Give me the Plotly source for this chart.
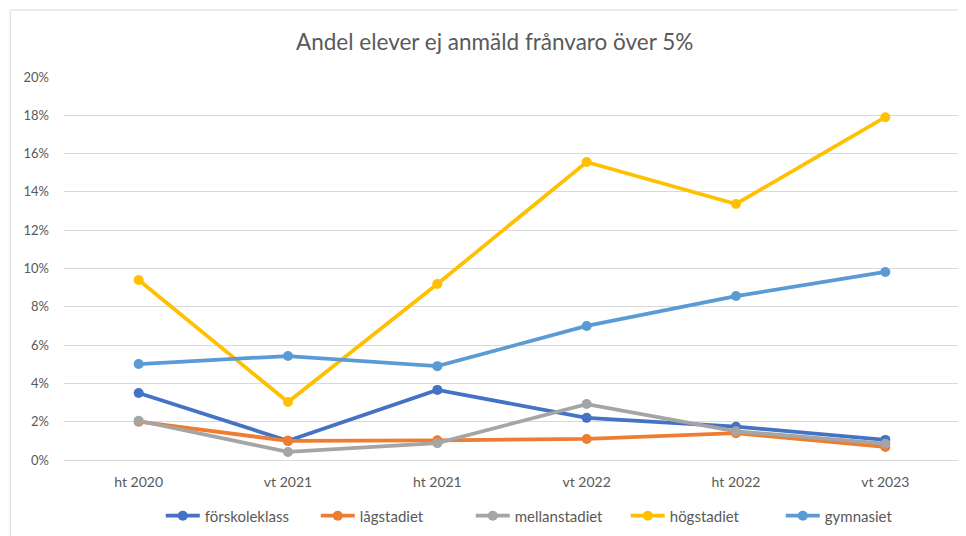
import plotly.graph_objects as go

categories = ["ht 2020", "vt 2021", "ht 2021", "vt 2022", "ht 2022", "vt 2023"]
forskoleklass = [0.035, 0.010, 0.0366, 0.022, 0.0174, 0.0105]
lagstadiet = [0.020, 0.010, 0.0103, 0.011, 0.014, 0.0068]
mellanstadiet = [0.0205, 0.0042, 0.0088, 0.0292, 0.015, 0.0085]
hogstadiet = [0.094, 0.0303, 0.0919, 0.1556, 0.1337, 0.179]
gymnasiet = [0.0501, 0.0543, 0.049, 0.070, 0.0856, 0.0982]
y_ticks = [0, 0.02, 0.04, 0.06, 0.08, 0.10, 0.12, 0.14, 0.16, 0.18, 0.20]
y_tick_labels = ["0%", "2%", "4%", "6%", "8%", "10%", "12%", "14%", "16%", "18%", "20%"]

series = [
    ("förskoleklass", forskoleklass, "#4472C4"),
    ("lågstadiet", lagstadiet, "#ED7D31"),
    ("mellanstadiet", mellanstadiet, "#A5A5A5"),
    ("högstadiet", hogstadiet, "#FFC000"),
    ("gymnasiet", gymnasiet, "#5B9BD5"),
]

fig = go.Figure()
for name, vals, color in series:
    fig.add_trace(go.Scatter(
        x=categories, y=vals, name=name, mode="lines+markers",
        line=dict(color=color, width=3.75),
        marker=dict(color=color, size=10),
    ))

font_family = "Lato, Open Sans, sans-serif"
fig.update_layout(
    width=958, height=528,
    margin=dict(l=56, r=6, t=69, b=76, autoexpand=False),
    paper_bgcolor="white", plot_bgcolor="white",
    title=dict(text="Andel elever ej anmäld frånvaro över 5%", x=0.508, xanchor="center",
               y=0.9356, yanchor="middle",
               font=dict(family=font_family, size=22.5, color="#595959")),
    font=dict(family=font_family, size=13, color="#595959"),
    showlegend=True,
    legend=dict(orientation="h", x=0.108, xanchor="left", y=-0.146, yanchor="middle",
                font=dict(size=15, color="#595959"), itemwidth=34, traceorder="normal",
                entrywidth=106, entrywidthmode="pixels"),
    xaxis=dict(type="category", showgrid=False, showline=False, ticks="",
               ticklabelstandoff=12,
               tickfont=dict(size=14, color="#595959"), range=[-0.5, 5.5], fixedrange=True),
    yaxis=dict(range=[0, 0.2], tickvals=y_ticks, ticktext=y_tick_labels,
               showgrid=True, gridcolor="#D9D9D9", gridwidth=1, zeroline=True,
               zerolinecolor="#D9D9D9", zerolinewidth=1, showline=False, ticks="",
               ticklabelstandoff=14,
               tickfont=dict(size=13, color="#595959")),
    shapes=[dict(type="rect", xref="paper", yref="paper",
                 x0=-0.06, x1=1.006, y0=-0.35, y1=1.175,
                 line=dict(color="#D9D9D9", width=1), fillcolor="rgba(0,0,0,0)", layer="below")],
)

fig.write_html("out.html")
